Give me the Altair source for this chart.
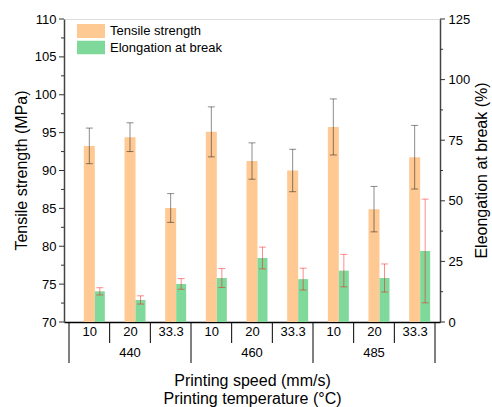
import altair as alt
import pandas as pd

temps = ["440", "460", "485"]
speeds = ["10", "20", "33.3"]
tensile = [93.25, 94.4, 85.05, 95.1, 91.25, 90.0, 95.75, 84.9, 91.75]
tensile_err = [2.35, 1.9, 1.9, 3.3, 2.4, 2.8, 3.7, 3.0, 4.2]
elong = [12.65, 9.1, 15.7, 18.15, 26.4, 17.7, 21.2, 18.15, 29.3]
elong_err = [1.5, 1.7, 2.2, 3.9, 4.5, 4.5, 6.7, 5.8, 21.4]
series = ["Tensile strength", "Elongation at break"]
colors = ["#FFC994", "#7FD99B"]
left_major = [70, 75, 80, 85, 90, 95, 100, 105, 110]
left_minor = [72.5, 77.5, 82.5, 87.5, 92.5, 97.5, 102.5, 107.5]
right_major = [0, 25, 50, 75, 100, 125]
right_minor = [12.5, 37.5, 62.5, 87.5, 112.5]

FONT = "Liberation Sans"
W, H = 376, 303

rows = []
for i in range(len(tensile)):
    rows.append({
        "pos": i + 0.5,
        "temp": temps[i // 3],
        "speed": speeds[i % 3],
        "s1": series[0],
        "s2": series[1],
        "ts": tensile[i],
        "ts_lo": tensile[i] - tensile_err[i],
        "ts_hi": tensile[i] + tensile_err[i],
        "el": elong[i],
        "el_lo": elong[i] - elong_err[i],
        "el_hi": elong[i] + elong_err[i],
    })
df = pd.DataFrame(rows)

groups = pd.DataFrame({"pos": [1.5, 4.5, 7.5], "temp": temps})
short_b = pd.DataFrame({"pos": [1, 2, 4, 5, 7, 8]})
long_b = pd.DataFrame({"pos": [0, 3, 6, 9]})

speed_arr = "[" + ",".join("'" + s + "'" for s in speeds) + "]"

xscale = alt.Scale(domain=[0, 9], nice=False, zero=False)
xaxis = alt.Axis(
    values=[i + 0.5 for i in range(9)],
    labelExpr=speed_arr + "[floor(datum.value) % 3]",
    ticks=False, grid=False, labelFontSize=13, labelFont=FONT, labelColor="#000",
    labelPadding=3, domainColor="#000", domainWidth=1.5,
    title=["Printing speed (mm/s)", "Printing temperature (°C)"],
    titleFont=FONT, titleFontSize=16, titleFontWeight="normal", titleColor="#000",
    titleX=188, titleY=50, titleAlign="center", titleBaseline="top", titleLineHeight=18,
)
X = alt.X("pos:Q", scale=xscale, axis=xaxis)

yl_scale = alt.Scale(domain=[70, 110], nice=False, zero=False)
yl_axis = alt.Axis(
    values=left_major,
    ticks=False, labelPadding=8,
    domainColor="#444", domainWidth=1.5, grid=False,
    labelFontSize=13, labelFont=FONT, labelColor="#000",
    title="Tensile strength (MPa)", titleFont=FONT, titleFontSize=16,
    titleFontWeight="normal", titleColor="#000",
    titleAngle=270, titleX=-43, titleY=151, titleAlign="center", titleBaseline="middle",
)
yr_scale = alt.Scale(domain=[0, 125], nice=False, zero=True)
yr_axis = alt.Axis(
    orient="right",
    values=right_major,
    ticks=False, labelPadding=8,
    domainColor="#444", domainWidth=1.5, grid=False,
    labelFontSize=13, labelFont=FONT, labelColor="#000",
    title="Eleongation at break (%)", titleFont=FONT, titleFontSize=16,
    titleFontWeight="normal", titleColor="#000",
    titleAngle=270, titleX=41, titleY=151, titleAlign="center", titleBaseline="middle",
)

cscale = alt.Scale(domain=series, range=colors)
legend = alt.Legend(
    orient="none", legendX=13, legendY=5, title=None, padding=0,
    symbolType="M-1,-0.5H1V0.5H-1Z", symbolSize=784, clipHeight=14,
    symbolStrokeWidth=0, symbolOpacity=1, rowPadding=2.5, labelOffset=5,
    labelFontSize=13, labelFont=FONT, labelColor="#000",
)

base = alt.Chart(df)

ts_bar = base.mark_bar(width=11).encode(
    x=X,
    y=alt.Y("ts:Q", scale=yl_scale, axis=yl_axis),
    y2=alt.datum(70),
    color=alt.Color("s1:N", scale=cscale, legend=legend),
)
ts_rule = base.mark_rule(color="#000", opacity=0.45, strokeWidth=1).encode(
    x=X, y=alt.Y("ts_lo:Q", scale=yl_scale, axis=yl_axis), y2="ts_hi:Q"
)
ts_cap_hi = base.mark_tick(orient="horizontal", size=7, thickness=1, color="#000", opacity=0.45).encode(
    x=X, y=alt.Y("ts_hi:Q", scale=yl_scale, axis=yl_axis)
)
ts_cap_lo = base.mark_tick(orient="horizontal", size=7, thickness=1, color="#000", opacity=0.45).encode(
    x=X, y=alt.Y("ts_lo:Q", scale=yl_scale, axis=yl_axis)
)
lt_major = alt.Chart(pd.DataFrame({"v": left_major})).mark_rule(color="#333", strokeWidth=1, clip=False).encode(
    y=alt.Y("v:Q", scale=yl_scale, axis=yl_axis), x=alt.value(-5), x2=alt.value(0)
)
lt_minor = alt.Chart(pd.DataFrame({"v": left_minor})).mark_rule(color="#333", strokeWidth=1, clip=False).encode(
    y=alt.Y("v:Q", scale=yl_scale, axis=yl_axis), x=alt.value(-3), x2=alt.value(0)
)
left = alt.layer(ts_bar, ts_rule, ts_cap_hi, ts_cap_lo, lt_major, lt_minor)

OFF = 10.5
el_bar = base.mark_bar(width=10, xOffset=OFF).encode(
    x=X,
    y=alt.Y("el:Q", scale=yr_scale, axis=yr_axis),
    y2=alt.datum(0),
    color=alt.Color("s2:N", scale=cscale, legend=legend),
)
el_rule = base.mark_rule(color="#FF0000", opacity=0.45, strokeWidth=1, xOffset=OFF).encode(
    x=X, y=alt.Y("el_lo:Q", scale=yr_scale, axis=yr_axis), y2="el_hi:Q"
)
el_cap_hi = base.mark_tick(orient="horizontal", size=7, thickness=1, color="#FF0000", opacity=0.45, xOffset=OFF).encode(
    x=X, y=alt.Y("el_hi:Q", scale=yr_scale, axis=yr_axis)
)
el_cap_lo = base.mark_tick(orient="horizontal", size=7, thickness=1, color="#FF0000", opacity=0.45, xOffset=OFF).encode(
    x=X, y=alt.Y("el_lo:Q", scale=yr_scale, axis=yr_axis)
)
rt_major = alt.Chart(pd.DataFrame({"v": right_major})).mark_rule(color="#333", strokeWidth=1, clip=False).encode(
    y=alt.Y("v:Q", scale=yr_scale, axis=yr_axis), x=alt.value(W), x2=alt.value(W + 5)
)
rt_minor = alt.Chart(pd.DataFrame({"v": right_minor})).mark_rule(color="#333", strokeWidth=1, clip=False).encode(
    y=alt.Y("v:Q", scale=yr_scale, axis=yr_axis), x=alt.value(W), x2=alt.value(W + 3)
)
right = alt.layer(el_bar, el_rule, el_cap_hi, el_cap_lo, rt_major, rt_minor)

short_rules = alt.Chart(short_b).mark_rule(color="#000", strokeWidth=1, clip=False).encode(
    x=X, y=alt.value(H), y2=alt.value(H + 21)
)
long_rules = alt.Chart(long_b).mark_rule(color="#000", strokeWidth=1, clip=False).encode(
    x=X, y=alt.value(H), y2=alt.value(H + 41)
)
group_text = alt.Chart(groups).mark_text(
    font=FONT, fontSize=13, color="#000", baseline="middle", align="center"
).encode(x=X, y=alt.value(H + 31), text="temp:N")

chart = alt.layer(left, right, short_rules, long_rules, group_text).resolve_scale(
    y="independent"
).properties(
    width=W, height=H,
    autosize=alt.AutoSizeParams(type="none"),
    padding={"left": 64, "top": 19, "right": 52, "bottom": 85},
).configure_view(
    stroke="#555", strokeWidth=1.5
).configure(background="white")

chart.save("out.html", embed_options={"renderer": "svg", "actions": False})
